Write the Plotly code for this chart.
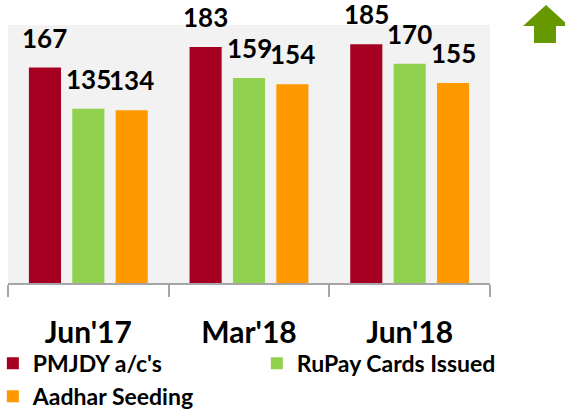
import plotly.graph_objects as go

categories = ["Jun'17", "Mar'18", "Jun'18"]
series_names = ["PMJDY a/c's", "RuPay Cards Issued", "Aadhar Seeding"]
pmjdy = [167, 183, 185]
rupay = [135, 159, 170]
aadhar = [134, 154, 155]
series_values = [pmjdy, rupay, aadhar]
colors = ["#A50021", "#92D050", "#FF9900"]

FONT = "Lato, 'Open Sans', sans-serif"

fig = go.Figure()
for name, vals, col in zip(series_names, series_values, colors):
    fig.add_trace(go.Bar(x=categories, y=vals, name=name, marker_color=col,
                         marker_line_width=0, hoverinfo="skip"))

# value labels above bars
plot_w = 565 - 8 - 75
cat_w = plot_w / len(categories)
bargap = 0.19
slot = cat_w * (1 - bargap) / 3
for i, vals in enumerate(series_values):
    for c, v in zip(categories, vals):
        fig.add_annotation(x=c, y=v, text=str(v), showarrow=False,
                           xshift=(i - 1) * slot, yshift=12, yanchor="bottom",
                           font=dict(family=FONT, size=26, color="black", weight="bold"))

# green up arrow decoration (pixel -> paper coords)
def px(xp):
    return (xp - 8) / plot_w
def py(yp):
    return (283 - yp) / 258
pts = [(534, 43), (534, 26), (523, 26), (546, 5), (569, 26), (556, 26), (556, 43)]
path = "M " + " L ".join(f"{px(a):.4f},{py(b):.4f}" for a, b in pts) + " Z"
fig.add_shape(type="path", path=path, xref="paper", yref="paper",
              fillcolor="#669900", line_width=0, layer="above")

fig.update_layout(
    width=565, height=410,
    margin=dict(l=8, r=75, t=25, b=127, autoexpand=False),
    paper_bgcolor="white", plot_bgcolor="#F2F2F2",
    barmode="group", bargap=bargap, bargroupgap=0.26,
    font=dict(family=FONT, color="black"),
    showlegend=True,
    legend=dict(orientation="h", x=1.064, xanchor="right", y=-0.228, yanchor="top",
                entrywidth=219, entrywidthmode="pixels",
                font=dict(family=FONT, size=23, color="black", weight="bold"),
                bgcolor="rgba(0,0,0,0)", tracegroupgap=0, itemclick=False),
)
fig.update_xaxes(showline=True, linecolor="#A6A6A6", linewidth=1.5,
                 ticks="outside", tickson="boundaries", ticklen=12,
                 tickcolor="#A6A6A6", tickwidth=1.5, automargin=False,
                 tickfont=dict(family=FONT, size=30, color="black", weight="bold"),
                 ticklabelstandoff=22, showgrid=False)
fig.update_yaxes(range=[0, 200], visible=False, showgrid=False, automargin=False)

fig.write_html("out.html", config={"displayModeBar": False},
               post_script="document.body.style.margin='0';")
